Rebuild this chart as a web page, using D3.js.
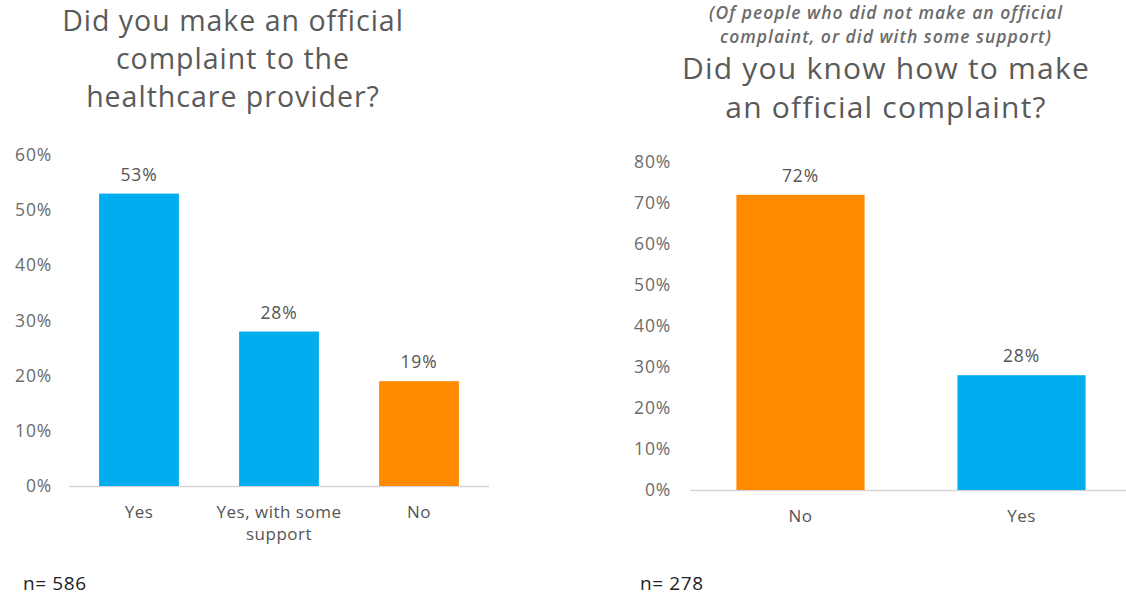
<!DOCTYPE html>
<html>
<head>
<meta charset="utf-8">
<script src="https://cdn.jsdelivr.net/npm/d3@7"></script>
<style>
  html, body { margin: 0; padding: 0; background: #fff; }
  svg { display: block; font-family: "Open Sans", "Lato", sans-serif; }
</style>
</head>
<body>
<svg id="chart" width="1126" height="596"></svg>
<script>
// Survey results: complaints to healthcare providers
const complaintCategories = ["Yes", "Yes, with some support", "No"];
const complaintValues = [53, 28, 19];
const complaintTicks = [0, 10, 20, 30, 40, 50, 60];
const complaintTitle = ["Did you make an official", "complaint to the", "healthcare provider?"];
const complaintN = "n= 586";

const knowCategories = ["No", "Yes"];
const knowValues = [72, 28];
const knowTicks = [0, 10, 20, 30, 40, 50, 60, 70, 80];
const knowNote = ["(Of people who did not make an official", "complaint, or did with some support)"];
const knowTitle = ["Did you know how to make", "an official complaint?"];
const knowN = "n= 278";

const BLUE = "#00AEEF";
const ORANGE = "#FF8A00";

const svg = d3.select("#chart");

function wrapLines(label, maxChars) {
  const words = label.split(" ");
  const lines = [];
  let cur = "";
  words.forEach(w => {
    const next = cur ? cur + " " + w : w;
    if (next.length > maxChars && cur) { lines.push(cur); cur = w; }
    else cur = next;
  });
  if (cur) lines.push(cur);
  return lines;
}

function drawPanel(cfg) {
  const g = svg.append("g");

  const x = d3.scaleBand()
    .domain(cfg.categories)
    .range(cfg.xRange)
    .paddingInner(cfg.padInner)
    .paddingOuter(cfg.padInner / 2);

  const y = d3.scaleLinear()
    .domain([0, d3.max(cfg.ticks)])
    .range(cfg.yRange);

  // y tick labels (no axis line, no tick marks)
  const yAxis = d3.axisLeft(y)
    .tickValues(cfg.ticks)
    .tickFormat(d => d + "%")
    .tickSize(0)
    .tickPadding(0);
  const ya = g.append("g")
    .attr("transform", `translate(${cfg.tickLabelX},0)`)
    .call(yAxis);
  ya.select(".domain").remove();
  ya.selectAll("text")
    .attr("fill", "#6b6b6b")
    .style("font-size", "17.5px")
    .style("letter-spacing", "0.8px")
    .style("font-family", "'Open Sans', sans-serif");

  // baseline
  g.append("line")
    .attr("x1", cfg.baselineX1)
    .attr("x2", x.range()[1])
    .attr("y1", y(0) + 0.5)
    .attr("y2", y(0) + 0.5)
    .attr("stroke", "#d6d6d6")
    .attr("stroke-width", 1.5);

  const data = cfg.categories.map((c, i) => ({ c, v: cfg.values[i] }));

  // bars
  g.selectAll("rect.bar")
    .data(data)
    .join("rect")
    .attr("class", "bar")
    .attr("x", d => x(d.c))
    .attr("width", x.bandwidth())
    .attr("y", d => y(d.v))
    .attr("height", d => y(0) - y(d.v))
    .attr("fill", d => d.c === "No" ? ORANGE : BLUE);

  // value labels
  g.selectAll("text.val")
    .data(data)
    .join("text")
    .attr("class", "val")
    .attr("x", d => x(d.c) + x.bandwidth() / 2)
    .attr("y", d => y(d.v) - 13)
    .attr("text-anchor", "middle")
    .attr("fill", "#555")
    .style("font-size", "17.5px")
    .style("letter-spacing", "0.8px")
    .text(d => d.v + "%");

  // category labels, wrapped onto several lines when long
  const cl = g.selectAll("text.cat")
    .data(data)
    .join("text")
    .attr("class", "cat")
    .attr("x", d => x(d.c) + x.bandwidth() / 2)
    .attr("y", cfg.catY)
    .attr("text-anchor", "middle")
    .attr("fill", "#555")
    .style("font-size", "17px")
    .style("letter-spacing", "0.5px");
  cl.each(function (d) {
    const lines = wrapLines(d.c, 15);
    d3.select(this).selectAll("tspan")
      .data(lines)
      .join("tspan")
      .attr("x", x(d.c) + x.bandwidth() / 2)
      .attr("dy", (l, i) => i === 0 ? 0 : 22)
      .text(l => l);
  });

  // note lines (italic)
  if (cfg.note) {
    g.selectAll("text.note")
      .data(cfg.note)
      .join("text")
      .attr("class", "note")
      .attr("x", cfg.titleX)
      .attr("y", (d, i) => cfg.noteY + i * 24)
      .attr("text-anchor", "middle")
      .attr("fill", "#6b6b6b")
      .style("font-size", "17.5px")
      .style("font-style", "italic")
      .style("font-weight", "600")
      .style("letter-spacing", "1px")
      .text(d => d);
  }

  // title
  g.selectAll("text.title")
    .data(cfg.title)
    .join("text")
    .attr("class", "title")
    .attr("x", cfg.titleX)
    .attr("y", (d, i) => cfg.titleY + i * cfg.titleLead)
    .attr("text-anchor", "middle")
    .attr("fill", "#5a5a5a")
    .style("font-size", cfg.titleSize + "px")
    .style("letter-spacing", cfg.titleSpacing + "px")
    .text(d => d);

  // sample size
  g.append("text")
    .attr("x", cfg.nX)
    .attr("y", 590)
    .attr("fill", "#222")
    .style("font-size", "19px")
    .style("letter-spacing", "0.6px")
    .text(cfg.n);
}

drawPanel({
  categories: complaintCategories,
  values: complaintValues,
  ticks: complaintTicks,
  xRange: [69, 489],
  yRange: [486, 155],
  padInner: 0.43,
  tickLabelX: 52,
  baselineX1: 69,
  catY: 518,
  title: complaintTitle,
  titleX: 233,
  titleY: 31,
  titleLead: 38,
  titleSize: 28.5,
  titleSpacing: 1,
  n: complaintN,
  nX: 23
});

drawPanel({
  categories: knowCategories,
  values: knowValues,
  ticks: knowTicks,
  xRange: [690, 1132],
  yRange: [490, 162],
  padInner: 0.42,
  tickLabelX: 671,
  baselineX1: 690,
  catY: 522,
  note: knowNote,
  noteY: 19,
  title: knowTitle,
  titleX: 886,
  titleY: 79,
  titleLead: 39,
  titleSize: 30,
  titleSpacing: 1.2,
  n: knowN,
  nX: 640
});
</script>
</body>
</html>
